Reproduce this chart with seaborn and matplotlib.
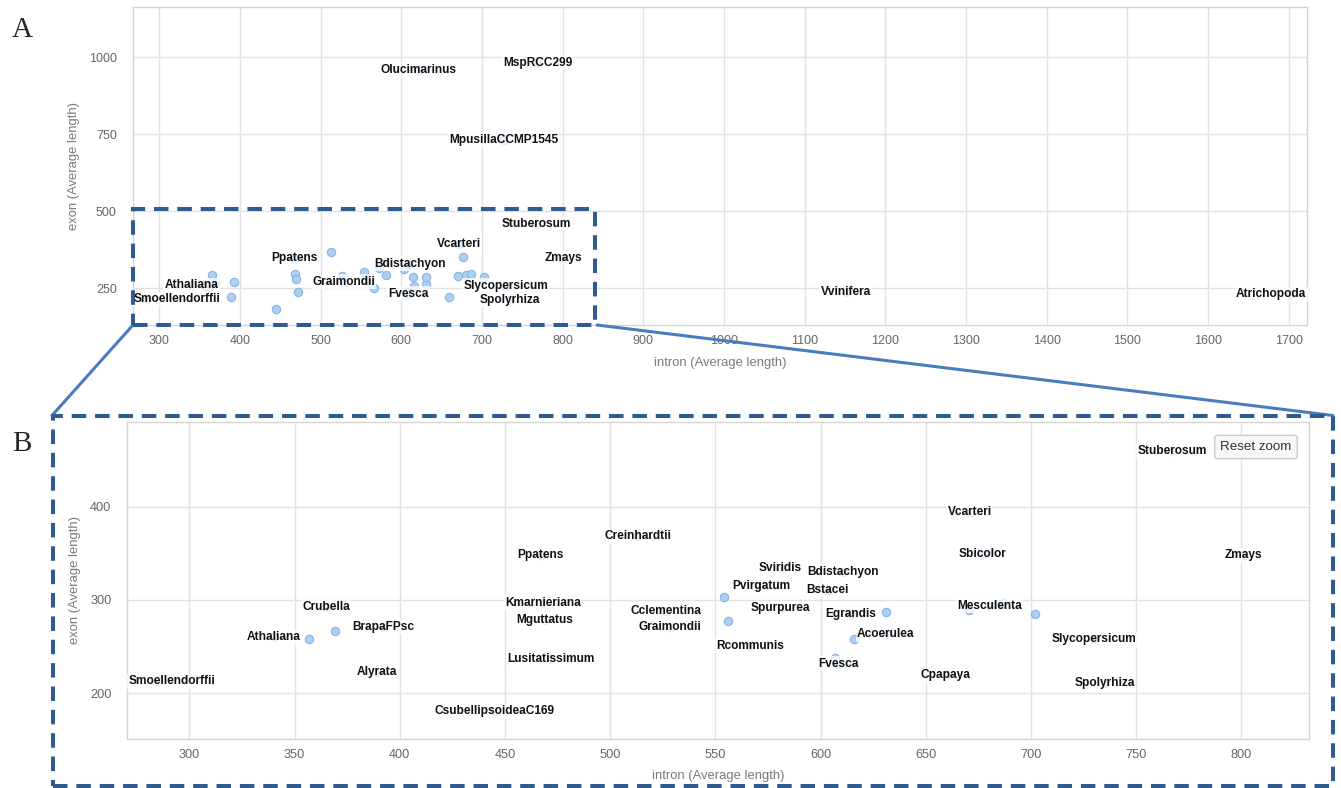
import matplotlib
matplotlib.use("Agg")
import matplotlib.pyplot as plt
import seaborn as sns
import pandas as pd
from matplotlib.lines import Line2D
from matplotlib.patches import Rectangle

# ---------------- data ----------------
species = ["Smoellendorffii", "Athaliana", "Crubella", "BrapaFPsc", "Alyrata",
           "Ppatens", "Kmarnieriana", "Mguttatus", "Lusitatissimum", "CsubellipsoideaC169",
           "Creinhardtii", "Cclementina", "Graimondii", "Sviridis", "Bdistachyon",
           "Pvirgatum", "Bstacei", "Spurpurea", "Egrandis", "Acoerulea",
           "Rcommunis", "Fvesca", "Cpapaya", "Vcarteri", "Sbicolor",
           "Mesculenta", "Slycopersicum", "Spolyrhiza", "Stuberosum", "Zmays",
           "Olucimarinus", "MspRCC299", "MpusillaCCMP1545", "Vvinifera", "Atrichopoda",
           "", "", "", "", "", "", "", "", "", ""]
intron = [285, 340, 365, 392, 389,
          467, 468, 469, 472, 445,
          513, 526.5, 528.5, 581, 610.5,
          572, 603.5, 581, 614.5, 631,
          566.5, 608.5, 659.5, 671, 677,
          680.5, 730, 735, 767, 801,
          621, 769, 727, 1151, 1703,
          357, 369, 554, 556, 631, 616, 607, 702, 670.5, 686.5]
exon = [213, 260, 292, 271, 222.5,
        348, 297, 278.5, 237, 180.5,
        368, 288.5, 270.5, 334.5, 329.5,
        314.5, 311, 291, 285, 263,
        251, 231.5, 219.5, 394.5, 349.5,
        293.5, 258, 210.5, 459.5, 348,
        957, 981, 730, 238, 230,
        258, 267, 303, 277.5, 287, 258, 237.5, 285, 289, 297]
labels_in_A = ["Olucimarinus", "MspRCC299", "MpusillaCCMP1545", "Stuberosum", "Vcarteri",
               "Zmays", "Ppatens", "Bdistachyon", "Graimondii", "Athaliana",
               "Smoellendorffii", "Fvesca", "Slycopersicum", "Spolyrhiza", "Vvinifera",
               "Atrichopoda"]

xticks_a = [300, 400, 500, 600, 700, 800, 900, 1000, 1100, 1200, 1300, 1400, 1500, 1600, 1700]
yticks_a = [250, 500, 750, 1000]
xticks_b = [300, 350, 400, 450, 500, 550, 600, 650, 700, 750, 800]
yticks_b = [200, 300, 400]
xlabel = "intron (Average length)"
ylabel = "exon (Average length)"

df = pd.DataFrame({"species": species, "intron": intron, "exon": exon})

# ---------------- figure ----------------
W, H = 1341, 788
sns.set_style("white")
plt.rcParams["font.family"] = ["Liberation Sans", "DejaVu Sans"]
fig = plt.figure(figsize=(W / 100, H / 100), dpi=100)


def px_axes(l, t, r, b):
    return fig.add_axes([l / W, 1 - b / H, (r - l) / W, (b - t) / H])


axA = px_axes(132.7, 7.3, 1307.3, 325)
axB = px_axes(127.3, 421.7, 1308.7, 739)

anns = []


def style(ax, xlim, ylim, xt, yt, wpx, hpx, fs):
    ax.set_xlim(*xlim)
    ax.set_ylim(*ylim)
    ax.set_xticks(xt)
    ax.set_yticks(yt)
    ax.grid(True, color="#e2e2e2", lw=1.0)
    ax.set_axisbelow(True)
    for s in ax.spines.values():
        s.set_color("#d4d4d4")
        s.set_linewidth(1.0)
    ax.tick_params(length=0, labelsize=fs, colors="#666666")
    ax.tick_params(axis="y", pad=11.5)
    ax.tick_params(axis="x", pad=7.3)
    ax.set_xlabel(xlabel, fontsize=9.4, color="#7a7a7a", va="center")
    ax.set_ylabel(ylabel, fontsize=9.4, color="#7a7a7a", va="center", ha="center")
    ax.xaxis.set_label_coords(0.5, -37.5 / hpx)


def draw(ax, show):
    sns.scatterplot(data=df, x="intron", y="exon", ax=ax, s=36, color="#aecff2",
                    edgecolor="#86b6e6", linewidth=0.8, legend=False, zorder=3)
    for n, x, y in zip(species, intron, exon):
        if n and show(n):
            a = ax.annotate(n, (x, y), xytext=(0, 0), textcoords="offset pixels",
                            ha="center", va="center", fontsize=8.6, fontweight="bold",
                            color="#111111", zorder=4,
                            bbox=dict(boxstyle="square,pad=0.12", fc="white", ec="none", alpha=0.75))
            anns.append((ax, a))


draw(axA, lambda n: n in labels_in_A)
draw(axB, lambda n: True)
style(axA, (267, 1723), (130, 1162), xticks_a, yticks_a, 1174.6, 317.7, 9.0)
style(axB, (270.5, 832), (151, 491), xticks_b, yticks_b, 1181.4, 317.3, 9.2)
axA.yaxis.set_label_coords(-58.7 / 1174.6, 0.5)
axB.yaxis.set_label_coords(-52.3 / 1181.4, 0.5)

# keep data labels inside the plot area (justify)
fig.canvas.draw()
r = fig.canvas.get_renderer()
for ax, a in anns:
    if not a.get_visible():
        continue
    bb = a.get_window_extent(r)
    ab = ax.get_window_extent(r)
    dx = 0
    if bb.x0 < ab.x0:
        dx = ab.x0 - bb.x0 + 1
    elif bb.x1 > ab.x1:
        dx = ab.x1 - bb.x1 - 1
    if dx:
        a.xyann = (dx, 0)

# reset zoom button
fig.text(1256 / W, 1 - 447 / H, "Reset zoom", ha="center", va="center", fontsize=9.6,
         color="#333333",
         bbox=dict(boxstyle="round,pad=0.42,rounding_size=0.2", fc="#f7f7f7", ec="#cccccc", lw=1))


# ---------------- zoom annotation ----------------
def fx(x):
    return x / W


def fy(y):
    return 1 - y / H


box_col = "#2f5b8f"
line_col = "#4a7cc0"
fig.add_artist(Line2D([fx(133), fx(52)], [fy(325), fy(415.5)], color=line_col, lw=2.2,
                      transform=fig.transFigure, zorder=5))
fig.add_artist(Line2D([fx(597), fx(1333)], [fy(325), fy(415.5)], color=line_col, lw=2.2,
                      transform=fig.transFigure, zorder=5))
fig.add_artist(Rectangle((fx(133), fy(325)), (595 - 133) / W, (325 - 209) / H, fill=False,
                         ec=box_col, lw=2.9, ls=(0, (3.6, 2.2)), transform=fig.transFigure, zorder=6))
fig.add_artist(Rectangle((fx(52.5), fy(786)), (1333 - 52.5) / W, (786 - 416) / H, fill=False,
                         ec=box_col, lw=2.9, ls=(0, (3.6, 2.2)), transform=fig.transFigure, zorder=6))

fig.text(fx(22), fy(30), "A", ha="center", va="center", fontsize=21, family="Liberation Serif")
fig.text(fx(22), fy(444), "B", ha="center", va="center", fontsize=21, family="Liberation Serif")

fig.savefig("out.png", dpi=100)
